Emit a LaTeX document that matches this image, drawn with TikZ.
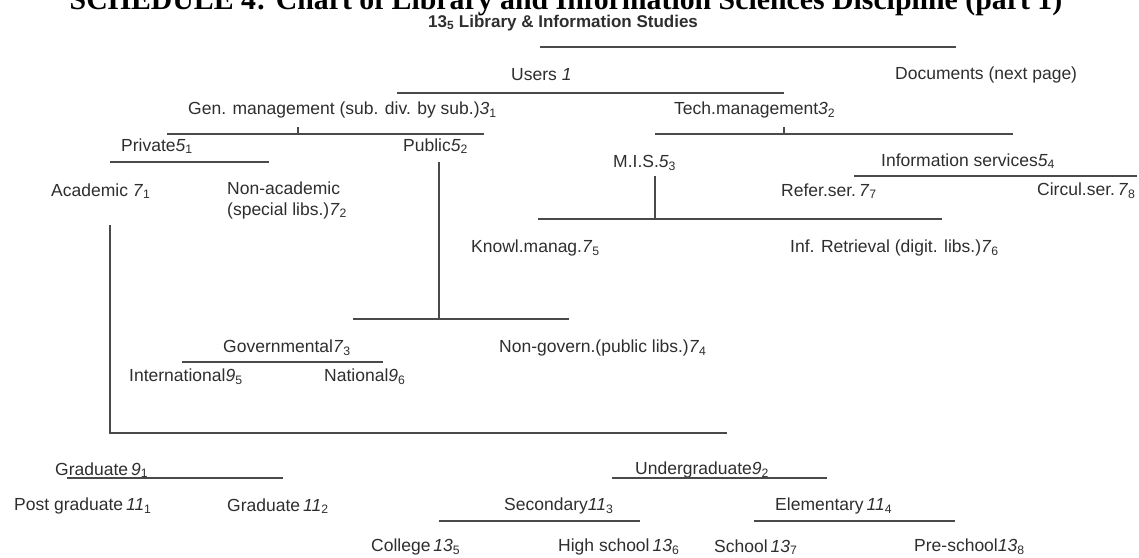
\documentclass[tikz,border=0pt]{standalone}
\usepackage{fontspec}
\setmainfont{Liberation Sans}
\newfontfamily\titlefont{Liberation Serif}
\definecolor{ink}{HTML}{2E2E2E}
\definecolor{rulegray}{HTML}{4A4A4A}
\newcommand{\cls}[2]{\textit{#1}\textsubscript{#2}}

\begin{document}
\begin{tikzpicture}[x=1pt,y=-1pt,
        lbl/.style={anchor=west,inner sep=0pt,text=ink,font=\fontsize{17.5}{21}\selectfont},
        bar/.style={draw=rulegray,line width=1.3pt}]
    \useasboundingbox (0,0) rectangle (1139,557);
    \node[anchor=base,inner sep=0pt,font=\titlefont\bfseries\fontsize{29.8}{33}\selectfont] (title) at (566,9)
        {SCHEDULE 4: Chart of Library and Information Sciences Discipline (part 1)};
    \begin{scope}[every node/.style={lbl}]
        \node[font=\bfseries\fontsize{17}{20}\selectfont] (lib) at (428,23) {13\textsubscript{5} Library \& Information Studies};
        \node (users) at (511,75) {Users \textit{1}};
        \node (docs) at (895,75) {Documents (next page)};
        \node (gen) at (188,110) {Gen. management (sub. div. by sub.)\cls{3}{1}};
        \node (tech) at (674,110) {Tech.management\cls{3}{2}};
        \node (priv) at (121,146) {Private\cls{5}{1}};
        \node (pub) at (403,146) {Public\cls{5}{2}};
        \node (mis) at (613,163) {M.I.S.\cls{5}{3}};
        \node (info) at (881,161) {Information services\cls{5}{4}};
        \node (acad) at (51,191) {Academic \cls{7}{1}};
        \node[align=left] (nonacad) at (227,200) {Non-academic\\(special libs.)\cls{7}{2}};
        \node (refer) at (781,191) {Refer.ser.\,\cls{7}{7}};
        \node (circul) at (1037,191) {Circul.ser.\,\cls{7}{8}};
        \node (knowl) at (471,248) {Knowl.manag.\cls{7}{5}};
        \node (infret) at (790,248) {Inf. Retrieval (digit. libs.)\cls{7}{6}};
        \node (gov) at (223,348) {Governmental\cls{7}{3}};
        \node (nongov) at (499,348) {Non-govern.(public libs.)\cls{7}{4}};
        \node (intl) at (129,377) {International\cls{9}{5}};
        \node (natl) at (324,377) {National\cls{9}{6}};
        \node (grad) at (55,470) {Graduate\,\cls{9}{1}};
        \node (ugrad) at (635,470) {Undergraduate\cls{9}{2}};
        \node (postgrad) at (14,506) {Post graduate\,\cls{11}{1}};
        \node (gradb) at (227,506) {Graduate\,\cls{11}{2}};
        \node (second) at (504,506) {Secondary\cls{11}{3}};
        \node (elem) at (775,506) {Elementary\,\cls{11}{4}};
        \node (college) at (371,547) {College\,\cls{13}{5}};
        \node (high) at (558,547) {High school\,\cls{13}{6}};
        \node (school) at (714,547) {School\,\cls{13}{7}};
        \node (presch) at (914,547) {Pre-school\cls{13}{8}};
    \end{scope}
    % bar ends
    \coordinate (libL) at (540,47);    \coordinate (libR) at (956,47);
    \coordinate (usrL) at (397,93);    \coordinate (usrR) at (784,93);
    \coordinate (genL) at (167,134);   \coordinate (genR) at (484,134);
    \coordinate (techL) at (655,134);  \coordinate (techR) at (1013,134);
    \coordinate (privL) at (110,162);  \coordinate (privR) at (269,162);
    \coordinate (infoL) at (854,176);  \coordinate (infoR) at (1137,176);
    \coordinate (misL) at (538,219);   \coordinate (misR) at (942,219);
    \coordinate (pubL) at (353,319);   \coordinate (pubR) at (569,319);
    \coordinate (govL) at (182,362);   \coordinate (govR) at (383,362);
    \coordinate (acadR) at (727,433);
    \coordinate (gradL) at (67,478);   \coordinate (gradR) at (283,478);
    \coordinate (ugradL) at (612,478); \coordinate (ugradR) at (827,478);
    \coordinate (secL) at (439,521);   \coordinate (secR) at (640,521);
    \coordinate (elemL) at (754,521);  \coordinate (elemR) at (955,521);
    % stems
    \coordinate (genT) at (298,127);   \coordinate (genB) at (298,134);
    \coordinate (techT) at (784,127);  \coordinate (techB) at (784,134);
    \coordinate (pubT) at (439,162);   \coordinate (pubB) at (439,319);
    \coordinate (misT) at (655,176);   \coordinate (misB) at (655,219);
    \coordinate (acadT) at (110,225);  \coordinate (acadB) at (110,433);

    \draw[bar] (libL) -- (libR);
    \draw[bar] (usrL) -- (usrR);
    \draw[bar] (genL) -- (genR);
    \draw[bar] (techL) -- (techR);
    \draw[bar] (privL) -- (privR);
    \draw[bar] (infoL) -- (infoR);
    \draw[bar] (misL) -- (misR);
    \draw[bar] (pubL) -- (pubR);
    \draw[bar] (govL) -- (govR);
    \draw[bar] (gradL) -- (gradR);
    \draw[bar] (ugradL) -- (ugradR);
    \draw[bar] (secL) -- (secR);
    \draw[bar] (elemL) -- (elemR);
    \draw[bar] (genT) -- (genB);
    \draw[bar] (techT) -- (techB);
    \draw[bar] (pubT) -- (pubB);
    \draw[bar] (misT) -- (misB);
    \draw[bar] (acadT) -- (acadB) -- (acadR);
\end{tikzpicture}
\end{document}
